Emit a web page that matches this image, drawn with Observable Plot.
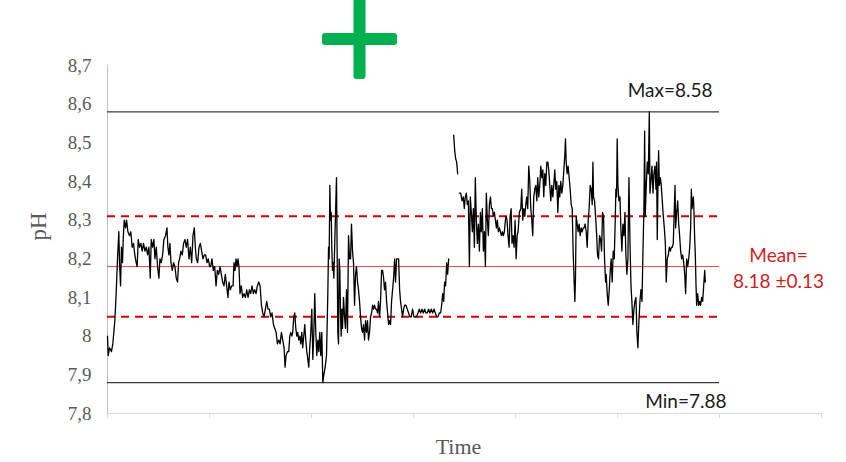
<!DOCTYPE html>
<html>
<head>
<meta charset="utf-8">
<script src="https://cdn.jsdelivr.net/npm/d3@7"></script>
<script src="https://cdn.jsdelivr.net/npm/@observablehq/plot@0.6"></script>
<style>
  html, body { margin: 0; padding: 0; background: #fff; }
  #wrap { position: relative; width: 846px; height: 462px; }
  #badge { position: absolute; left: 0; top: 0; pointer-events: none; }
</style>
</head>
<body>
<div id="wrap">
  <svg id="badge" width="846" height="90">
    <rect x="322" y="33" width="75" height="12" rx="3" fill="#00b050"></rect>
    <rect x="353.5" y="-2" width="12" height="81" rx="3" fill="#00b050"></rect>
  </svg>
</div>
<script>
// Logged pH record: elapsed time in days and the measured pH.
// A null reading marks a break in the logger record.
const timeDays = [
  0.000, 0.007, 0.020, 0.039, 0.052, 0.072, 0.085, 0.098, 0.111, 0.118,
  0.128, 0.137, 0.147, 0.154, 0.164, 0.177, 0.187, 0.200, 0.216, 0.229,
  0.242, 0.255, 0.268, 0.281, 0.291, 0.301, 0.314, 0.327, 0.340, 0.353,
  0.367, 0.380, 0.393, 0.406, 0.419, 0.429, 0.442, 0.455, 0.465, 0.478,
  0.491, 0.504, 0.514, 0.527, 0.540, 0.553, 0.569, 0.583, 0.592, 0.602,
  0.612, 0.622, 0.635, 0.648, 0.661, 0.674, 0.687, 0.697, 0.707, 0.720,
  0.733, 0.746, 0.759, 0.772, 0.785, 0.799, 0.812, 0.825, 0.838, 0.851,
  0.861, 0.871, 0.884, 0.897, 0.910, 0.923, 0.936, 0.949, 0.962, 0.975,
  0.988, 1.001, 1.011, 1.024, 1.037, 1.051, 1.064, 1.077, 1.090, 1.103,
  1.116, 1.129, 1.142, 1.155, 1.168, 1.181, 1.191, 1.204, 1.217, 1.231,
  1.240, 1.250, 1.260, 1.270, 1.280, 1.289, 1.299, 1.312, 1.325, 1.338,
  1.352, 1.365, 1.378, 1.391, 1.404, 1.417, 1.430, 1.443, 1.456, 1.469,
  1.483, 1.496, 1.509, 1.522, 1.535, 1.548, 1.561, 1.574, 1.587, 1.600,
  1.613, 1.627, 1.640, 1.653, 1.666, 1.679, 1.692, 1.705, 1.718, 1.731,
  1.741, 1.751, 1.764, 1.777, 1.787, 1.797, 1.807, 1.816, 1.826, 1.836,
  1.846, 1.856, 1.865, 1.875, 1.885, 1.895, 1.905, 1.914, 1.924, 1.934,
  1.944, 1.954, 1.964, 1.973, 1.983, 1.993, 2.003, 2.013, 2.023, 2.032,
  2.042, 2.052, 2.062, 2.072, 2.081, 2.091, 2.101, 2.111, 2.121, 2.134,
  2.147, 2.160, 2.167, 2.173, 2.180, 2.186, 2.193, 2.199, 2.206, 2.212,
  2.219, 2.229, 2.239, 2.245, 2.252, 2.258, 2.265, 2.271, 2.278, 2.284,
  2.291, 2.297, 2.304, 2.314, 2.324, 2.333, 2.343, 2.353, 2.363, 2.373,
  2.383, 2.392, 2.402, 2.412, 2.422, 2.432, 2.441, 2.451, 2.461, 2.471,
  2.481, 2.491, 2.500, 2.510, 2.520, 2.530, 2.540, 2.549, 2.559, 2.569,
  2.579, 2.589, 2.599, 2.608, 2.618, 2.628, 2.638, 2.648, 2.657, 2.667,
  2.677, 2.687, 2.697, 2.707, 2.716, 2.726, 2.736, 2.746, 2.756, 2.765,
  2.775, 2.785, 2.795, 2.805, 2.815, 2.824, 2.834, 2.844, 2.854, 2.864,
  2.873, 2.883, 2.893, 2.903, 2.913, 2.926, 2.939, 2.952, 2.965, 2.978,
  2.991, 3.004, 3.017, 3.030, 3.044, 3.057, 3.070, 3.083, 3.096, 3.109,
  3.122, 3.135, 3.148, 3.161, 3.174, 3.188, 3.201, 3.214, 3.227, 3.240,
  3.253, 3.266, 3.276, 3.286, 3.296, 3.305, 3.315, 3.325, 3.335, 3.345,
  3.370, 3.394, 3.404, 3.413, 3.423, 3.433, 3.441, 3.449, 3.463, 3.476,
  3.489, 3.498, 3.508, 3.518, 3.528, 3.538, 3.548, 3.557, 3.567, 3.577,
  3.587, 3.597, 3.606, 3.616, 3.626, 3.636, 3.646, 3.656, 3.665, 3.675,
  3.685, 3.695, 3.705, 3.714, 3.724, 3.734, 3.744, 3.754, 3.764, 3.773,
  3.783, 3.793, 3.803, 3.813, 3.822, 3.832, 3.842, 3.852, 3.862, 3.872,
  3.881, 3.891, 3.901, 3.908, 3.917, 3.927, 3.937, 3.947, 3.957, 3.966,
  3.976, 3.986, 3.996, 4.006, 4.016, 4.025, 4.038, 4.052, 4.061, 4.071,
  4.081, 4.091, 4.101, 4.110, 4.120, 4.130, 4.140, 4.150, 4.160, 4.169,
  4.179, 4.189, 4.199, 4.209, 4.218, 4.228, 4.238, 4.248, 4.258, 4.268,
  4.277, 4.287, 4.297, 4.307, 4.317, 4.326, 4.336, 4.346, 4.356, 4.366,
  4.375, 4.385, 4.395, 4.405, 4.415, 4.425, 4.434, 4.444, 4.454, 4.464,
  4.474, 4.484, 4.490, 4.497, 4.506, 4.516, 4.526, 4.536, 4.546, 4.556,
  4.565, 4.575, 4.582, 4.588, 4.595, 4.605, 4.614, 4.624, 4.634, 4.644,
  4.654, 4.664, 4.673, 4.683, 4.693, 4.703, 4.713, 4.722, 4.732, 4.742,
  4.752, 4.759, 4.765, 4.775, 4.785, 4.794, 4.804, 4.814, 4.824, 4.834,
  4.844, 4.853, 4.863, 4.873, 4.883, 4.889, 4.899, 4.909, 4.919, 4.929,
  4.938, 4.948, 4.958, 4.968, 4.978, 4.984, 4.991, 4.997, 5.004, 5.014,
  5.024, 5.033, 5.043, 5.053, 5.063, 5.073, 5.082, 5.092, 5.102, 5.112,
  5.122, 5.132, 5.141, 5.151, 5.161, 5.171, 5.181, 5.190, 5.200, 5.210,
  5.220, 5.230, 5.240, 5.249, 5.259, 5.266, 5.272, 5.282, 5.292, 5.302,
  5.312, 5.318, 5.328, 5.338, 5.348, 5.357, 5.367, 5.377, 5.383, 5.390,
  5.397, 5.403, 5.410, 5.420, 5.429, 5.439, 5.449, 5.459, 5.469, 5.478,
  5.488, 5.498, 5.508, 5.518, 5.528, 5.537, 5.547, 5.557, 5.564, 5.570,
  5.580, 5.590, 5.600, 5.609, 5.619, 5.629, 5.639, 5.649, 5.659, 5.668,
  5.678, 5.688, 5.698, 5.708, 5.717, 5.724, 5.731, 5.737, 5.744, 5.750,
  5.757, 5.763, 5.770, 5.776, 5.786, 5.796, 5.806, 5.815, 5.825, 5.835,
  5.845, 5.855, 5.861
];

const pH = [
  8.00, 7.95, 7.97, 7.96, 7.98, 8.04, 8.11, 8.20, 8.27, 8.19,
  8.13, 8.23, 8.19, 8.25, 8.30, 8.28, 8.30, 8.27, 8.26, 8.27,
  8.23, 8.24, 8.21, 8.19, 8.18, 8.25, 8.23, 8.24, 8.22, 8.24,
  8.22, 8.23, 8.21, 8.23, 8.15, 8.25, 8.23, 8.25, 8.20, 8.23,
  8.18, 8.15, 8.20, 8.19, 8.21, 8.25, 8.26, 8.28, 8.23, 8.21,
  8.24, 8.19, 8.17, 8.19, 8.18, 8.15, 8.14, 8.19, 8.20, 8.22,
  8.21, 8.24, 8.25, 8.23, 8.25, 8.20, 8.23, 8.19, 8.26, 8.28,
  8.23, 8.20, 8.19, 8.23, 8.24, 8.22, 8.20, 8.21, 8.21, 8.19,
  8.20, 8.18, 8.18, 8.20, 8.17, 8.18, 8.13, 8.17, 8.16, 8.18,
  8.16, 8.14, 8.13, 8.16, 8.13, 8.10, 8.14, 8.12, 8.13, 8.13,
  8.19, 8.17, 8.20, 8.18, 8.20, 8.18, 8.11, 8.13, 8.10, 8.11,
  8.10, 8.12, 8.10, 8.12, 8.11, 8.13, 8.11, 8.12, 8.11, 8.13,
  8.14, 8.13, 8.08, 8.06, 8.05, 8.07, 8.09, 8.07, 8.07, 8.05,
  8.06, 8.03, 8.02, 8.01, 7.98, 7.99, 7.98, 8.01, 7.99, 7.97,
  7.92, 7.95, 7.96, 7.96, 8.00, 8.01, 8.00, 8.01, 8.05, 8.06,
  8.02, 8.00, 8.01, 7.99, 8.00, 7.98, 8.01, 7.97, 8.00, 8.03,
  7.99, 7.96, 7.94, 7.92, 7.97, 8.01, 8.07, 7.94, 8.01, 8.11,
  8.01, 7.95, 7.99, 7.96, 8.01, 7.95, 8.01, 7.88, 7.90, 7.92,
  7.95, 8.11, 8.23, 8.20, 8.39, 8.30, 8.32, 8.23, 8.17, 8.19,
  8.15, 8.25, 8.35, 8.41, 8.20, 8.01, 7.98, 8.20, 8.17, 8.06,
  8.00, 8.07, 8.02, 8.10, 8.05, 8.02, 8.12, 8.01, 8.26, 8.20,
  8.20, 8.29, 8.22, 8.19, 8.08, 8.16, 8.18, 8.14, 8.12, 8.09,
  8.05, 8.02, 8.01, 8.03, 7.99, 8.04, 8.01, 8.04, 7.99, 8.01,
  8.05, 8.06, 8.08, 8.07, 8.08, 8.07, 8.07, 8.06, 8.09, 8.05,
  8.09, 8.17, 8.17, 8.15, 8.12, 8.14, 8.09, 8.06, 8.03, 8.04,
  8.03, 8.09, 8.12, 8.15, 8.20, 8.14, 8.20, 8.20, 8.20, 8.12,
  8.09, 8.07, 8.05, 8.07, 8.08, 8.08, 8.07, 8.06, 8.05, 8.05,
  8.07, 8.05, 8.05, 8.05, 8.06, 8.07, 8.06, 8.07, 8.06, 8.07,
  8.06, 8.06, 8.07, 8.06, 8.07, 8.06, 8.07, 8.06, 8.05, 8.05,
  8.06, 8.06, 8.08, 8.11, 8.09, 8.14, 8.13, 8.19, 8.16, 8.20,
  null, 8.52, 8.48, 8.46, 8.45, 8.42, null, 8.37, 8.37, 8.35,
  8.36, 8.33, 8.36, 8.37, 8.34, 8.35, 8.18, 8.36, 8.32, 8.27,
  8.33, 8.23, 8.41, 8.30, 8.24, 8.29, 8.22, 8.32, 8.27, 8.33,
  8.22, 8.27, 8.18, 8.37, 8.30, 8.26, 8.34, 8.36, 8.33, 8.33,
  8.31, 8.32, 8.30, 8.28, 8.30, 8.27, 8.28, 8.27, 8.26, 8.27,
  8.26, 8.27, 8.30, 8.31, 8.30, 8.26, 8.23, 8.31, 8.33, 8.24,
  8.26, 8.23, 8.30, 8.20, 8.26, 8.27, 8.32, 8.33, 8.38, 8.30,
  8.33, 8.31, 8.34, 8.36, 8.33, 8.44, 8.40, 8.33, 8.30, 8.26,
  8.36, 8.38, 8.39, 8.35, 8.41, 8.36, 8.39, 8.44, 8.41, 8.43,
  8.36, 8.42, 8.39, 8.45, 8.45, 8.43, 8.39, 8.35, 8.39, 8.36,
  8.39, 8.43, 8.38, 8.40, 8.32, 8.39, 8.36, 8.40, 8.37, 8.39,
  8.43, 8.47, 8.51, 8.45, 8.42, 8.44, 8.41, 8.38, 8.34, 8.33,
  8.22, 8.14, 8.09, 8.15, 8.31, 8.29, 8.27, 8.29, 8.26, 8.28,
  8.27, 8.28, 8.28, 8.29, 8.27, 8.23, 8.30, 8.33, 8.39, 8.38,
  8.34, 8.45, 8.36, 8.35, 8.31, 8.27, 8.21, 8.20, 8.26, 8.25,
  8.22, 8.32, 8.31, 8.20, 8.14, 8.16, 8.11, 8.08, 8.12, 8.17,
  8.20, 8.14, 8.22, 8.20, 8.30, 8.38, 8.36, 8.51, 8.39, 8.35,
  8.36, 8.28, 8.22, 8.29, 8.26, 8.32, 8.21, 8.16, 8.20, 8.41,
  8.25, 8.13, 8.09, 8.03, 8.07, 8.09, 8.10, 8.01, 7.97, 8.04,
  8.09, 8.12, 8.09, 8.21, 8.33, 8.53, 8.31, 8.39, 8.45, 8.42,
  8.58, 8.37, 8.40, 8.44, 8.37, 8.42, 8.44, 8.38, 8.45, 8.25,
  8.40, 8.48, 8.39, 8.41, 8.39, 8.35, 8.31, 8.28, 8.24, 8.14,
  8.20, 8.21, 8.23, 8.22, 8.23, 8.23, 8.24, 8.33, 8.39, 8.28,
  8.32, 8.35, 8.29, 8.26, 8.22, 8.20, 8.21, 8.19, 8.16, 8.11,
  8.20, 8.18, 8.20, 8.23, 8.28, 8.38, 8.33, 8.35, 8.36, 8.32,
  8.25, 8.21, 8.13, 8.08, 8.11, 8.08, 8.09, 8.08, 8.10, 8.09,
  8.13, 8.17, 8.14
];

// Summary statistics of the record and the period they cover (days)
const maxPH = 8.58;
const minPH = 7.88;
const meanPH = 8.18;
const sdPH = 0.13;
const statSpan = [0, 6];

// Axis ticks
const yTicks = [7.8, 7.9, 8.0, 8.1, 8.2, 8.3, 8.4, 8.5, 8.6, 8.7];
const xTicks = [0, 1, 2, 3, 4, 5, 6, 7];

const readings = timeDays.map((t, i) => ({t, ph: pH[i]}));

// Decimal comma, whole numbers without a trailing ",0"
const commaFormat = d => {
  const s = d.toFixed(1);
  return (s.endsWith(".0") ? s.slice(0, -2) : s).replace(".", ",");
};

const serif = "'Liberation Serif', 'Times New Roman', serif";
const sans = "Lato, 'Liberation Sans', sans-serif";
const red = "#cc1f1f";

const chart = Plot.plot({
  width: 846,
  height: 462,
  marginLeft: 107,
  marginRight: 25,
  marginTop: 65,
  marginBottom: 49,
  x: {domain: [0, 7]},
  y: {domain: [7.8, 8.7]},
  style: {fontFamily: serif, fontSize: "19px", color: "#595959", background: "#fff"},
  marks: [
    Plot.ruleX([0], {stroke: "#bfbfbf", strokeWidth: 1}),
    Plot.ruleY([7.8], {stroke: "#d9d9d9", strokeWidth: 1}),
    Plot.axisX({ticks: xTicks, tickSize: 5, tickFormat: () => "", stroke: "#d9d9d9", label: null}),
    Plot.axisY({ticks: yTicks, tickSize: 0, tickPadding: 16, tickFormat: commaFormat, label: null,
                fill: "#595959", fontSize: 19}),
    Plot.ruleY([maxPH, minPH], {x1: statSpan[0], x2: statSpan[1], stroke: "#3a3a3a", strokeWidth: 1.3}),
    Plot.ruleY([meanPH], {x1: statSpan[0], x2: statSpan[1], stroke: "#e04848", strokeWidth: 1}),
    Plot.ruleY([meanPH - sdPH, meanPH + sdPH], {x1: statSpan[0], x2: statSpan[1], stroke: "#d40000",
                strokeWidth: 2, strokeDasharray: "8,6"}),
    Plot.line(readings, {x: "t", y: "ph", stroke: "#000", strokeWidth: 1.3}),
    Plot.text([`Max=${maxPH}`], {x: statSpan[1], y: maxPH, textAnchor: "end", dx: -7, dy: -21,
                fontFamily: sans, fontSize: 19, fill: "#1a1a1a"}),
    Plot.text([`Min=${minPH}`], {x: statSpan[1], y: minPH, textAnchor: "end", dx: 7, dy: 19,
                fontFamily: sans, fontSize: 19, fill: "#1a1a1a"}),
    Plot.text([`Mean=\n${meanPH} ±${sdPH}`], {frameAnchor: "right", y: meanPH, dx: -43, textAnchor: "middle",
                lineHeight: 1.37, fontFamily: sans, fontSize: 19, fill: red}),
    Plot.text(["pH"], {frameAnchor: "left", textAnchor: "middle", rotate: -90, dx: -69, dy: -13,
                fontFamily: serif, fontSize: 23, fill: "#595959"}),
    Plot.text(["Time"], {frameAnchor: "bottom", dx: -6, dy: 40, fontFamily: serif, fontSize: 22,
                fill: "#595959"})
  ]
});

document.getElementById("wrap").prepend(chart);
</script>
</body>
</html>
